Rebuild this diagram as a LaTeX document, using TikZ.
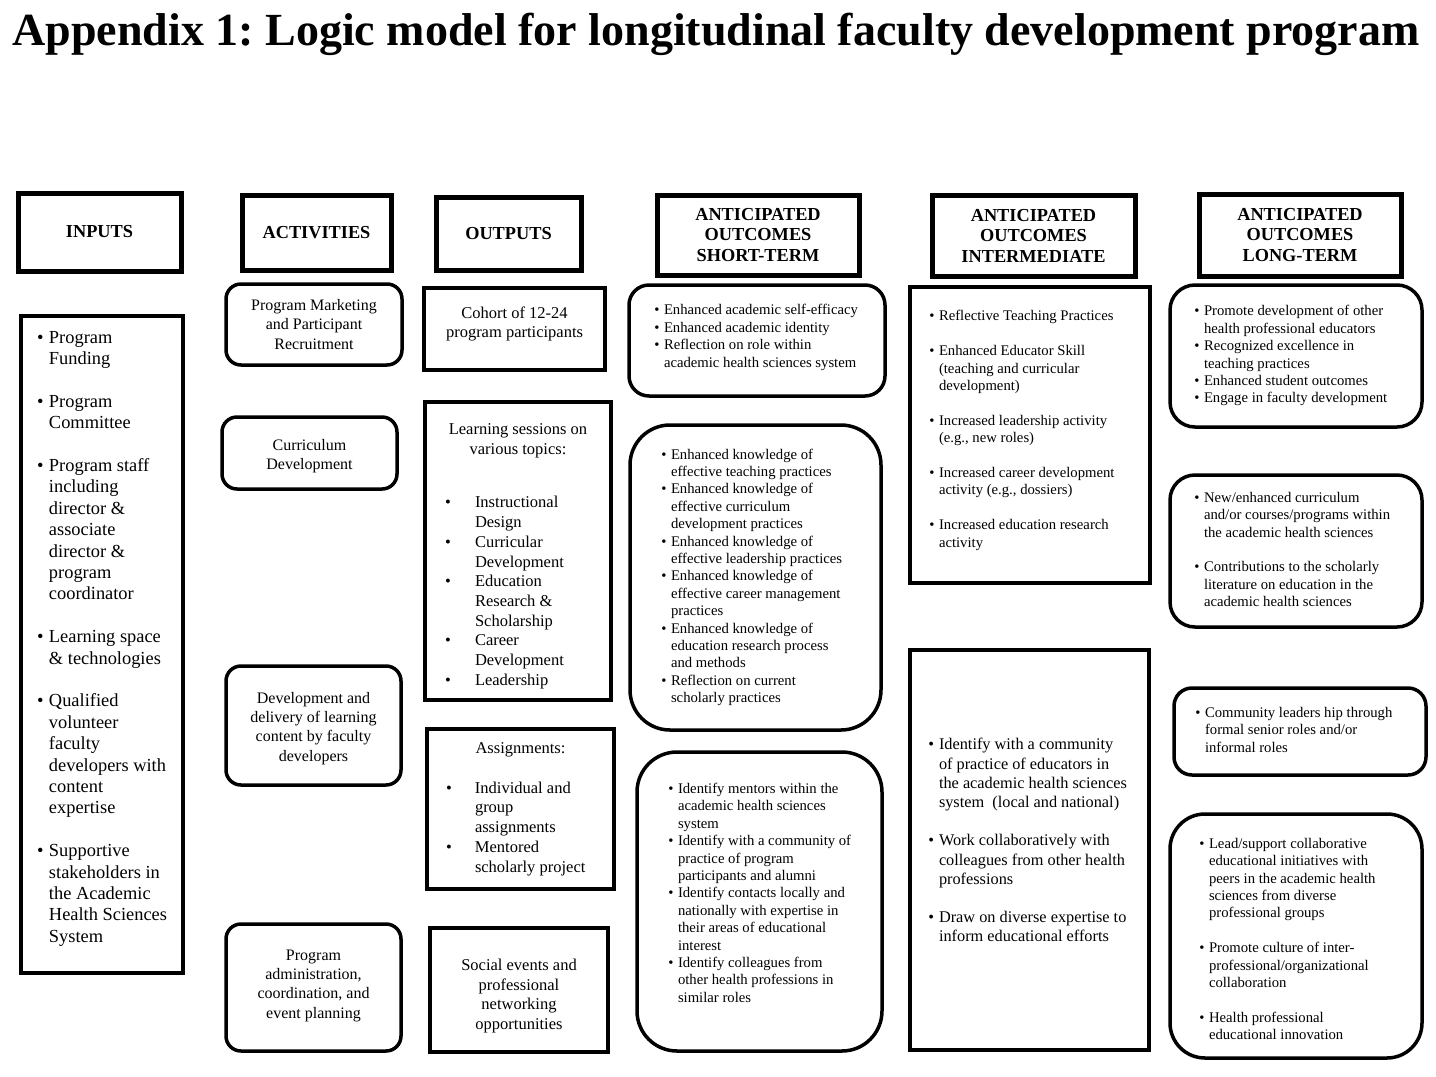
\documentclass[tikz,border=0pt]{standalone}
\usepackage{fontspec}
\setmainfont{Liberation Serif}
\frenchspacing

\newcommand{\titlefont}{\bfseries\fontsize{46}{50}\selectfont}
\newcommand{\headfont}{\bfseries\fontsize{18.3}{20.5}\selectfont}
\newcommand{\inpfont}{\fontsize{18.4}{21.4}\selectfont}
\newcommand{\actfont}{\fontsize{16}{19.2}\selectfont}
\newcommand{\outfont}{\fontsize{16.5}{19.7}\selectfont}
\newcommand{\lowfont}{\fontsize{14.7}{17.4}\selectfont}
\newcommand{\midfont}{\fontsize{16.3}{19.2}\selectfont}
% bullet, set flush right in its column
\newcommand{\bul}{\hfill\textbullet\hspace*{0.3em}}
% [raise] width of block, width of bullet column, rows
\newcommand{\bitems}[4][0pt]{\raisebox{#1}[\height][\depth]{\makebox[#2][l]{%
  \begin{tabular}[t]{@{}p{#3}@{}l@{}}#4\end{tabular}}}}
% [raise] centred lines
\newcommand{\clines}[2][0pt]{\raisebox{#1}[\height][\depth]{%
  \begin{tabular}[t]{@{}c@{}}#2\end{tabular}}}

\begin{document}
\begin{tikzpicture}[x=1pt, y=-1pt,
  head/.style={draw, line width=5, inner sep=0, align=center, font=\headfont},
  sqbox/.style={draw, line width=4, inner sep=0, align=center},
  rbox/.style={draw, line width=3.5, inner sep=0, align=center, rounded corners=#1},
  rbox/.default=15,
  wh/.style 2 args={minimum width=#1, minimum height=#2}]
  \useasboundingbox (0,0) rectangle (1436,1077);

  \node[font=\titlefont, anchor=base] (title) at (716,45)
    {Appendix 1: Logic model for longitudinal faculty development program};

  % column headers
  \node[head, wh={163}{78}] (hinputs) at (99.5,232)   {INPUTS};
  \node[head, wh={149}{75}] (hact)    at (316.5,232.5) {ACTIVITIES};
  \node[head, wh={145}{73}] (hout)    at (508.5,233.5) {OUTPUTS};
  \node[head, wh={202}{80}] (hshort)  at (758,235)    {ANTICIPATED\\OUTCOMES\\SHORT-TERM};
  \node[head, wh={203}{81}] (hinter)  at (1033.5,235.5) {ANTICIPATED\\OUTCOMES\\INTERMEDIATE};
  \node[head, wh={202}{82}] (hlong)   at (1300,235)   {ANTICIPATED\\OUTCOMES\\LONG-TERM};

  % inputs
  \node[sqbox, wh={162}{657}, font=\inpfont] (inputs) at (102,644.5) {\bitems[6pt]{132pt}{13pt}{%
    \bul & Program\\ & Funding\\[21.4pt]
    \bul & Program\\ & Committee\\[21.4pt]
    \bul & Program staff\\ & including\\ & director \&\\ & associate\\ & director \&\\ & program\\ & coordinator\\[21.4pt]
    \bul & Learning space\\ & \& technologies\\[21.4pt]
    \bul & Qualified\\ & volunteer\\ & faculty\\ & developers with\\ & content\\ & expertise\\[21.4pt]
    \bul & Supportive\\ & stakeholders in\\ & the Academic\\ & Health Sciences\\ & System}};

  % activities
  \node[rbox, wh={176}{81}, font=\actfont]  (market)   at (314,324.5)   {Program Marketing\\and Participant\\Recruitment};
  \node[rbox, wh={175}{72}, font=\actfont]  (curric)   at (309.5,453)   {\clines[-3pt]{Curriculum\\Development}};
  \node[rbox, wh={175}{119}, font=\actfont] (delivery) at (313.5,725.5) {\clines[-3pt]{Development and\\delivery of learning\\content by faculty\\developers}};
  \node[rbox, wh={175}{127}, font=\actfont] (admin)    at (313.5,987.5) {\clines[2pt]{Program\\administration,\\coordination, and\\event planning}};

  % outputs
  \node[sqbox, wh={181}{82}, font=\outfont]  (cohort)   at (514.5,329) {\clines[5pt]{Cohort of 12-24\\program participants}};
  \node[sqbox, wh={186}{298}, font=\outfont] (sessions) at (518,551) {\clines[-5pt]{Learning sessions on\\various topics:\\[34pt]
    \bitems{146pt}{30pt}{%
      \textbullet & Instructional\\ & Design\\
      \textbullet & Curricular\\ & Development\\
      \textbullet & Education\\ & Research \&\\ & Scholarship\\
      \textbullet & Career\\ & Development\\
      \textbullet & Leadership}}};
  \node[sqbox, wh={187}{160}, font=\outfont] (assign) at (520.5,809) {\clines{Assignments:\\[19.7pt]
    \bitems{149pt}{29pt}{%
      \textbullet & Individual and\\ & group\\ & assignments\\
      \textbullet & Mentored\\ & scholarly project}}};
  \node[sqbox, wh={178}{124}, font=\outfont] (social) at (519,990) {\clines[-6pt]{Social events and\\professional\\networking\\opportunities}};

  % short-term outcomes
  \node[rbox=20, wh={256}{111}, font=\lowfont] (efficacy) at (757,340.5) {\bitems[3pt]{210pt}{12pt}{%
    \bul & Enhanced academic self-efficacy\\
    \bul & Enhanced academic identity\\
    \bul & Reflection on role within\\ & academic health sciences system}};
  \node[rbox=40, wh={251}{305}, font=\lowfont] (knowledge) at (755.5,577.5) {\bitems{193pt}{12pt}{%
    \bul & Enhanced knowledge of\\ & effective teaching practices\\
    \bul & Enhanced knowledge of\\ & effective curriculum\\ & development practices\\
    \bul & Enhanced knowledge of\\ & effective leadership practices\\
    \bul & Enhanced knowledge of\\ & effective career management\\ & practices\\
    \bul & Enhanced knowledge of\\ & education research process\\ & and methods\\
    \bul & Reflection on current\\ & scholarly practices}};
  \node[rbox=40, wh={245}{299}, font=\lowfont] (network) at (759.5,901.5) {\bitems[7pt]{187pt}{12pt}{%
    \bul & Identify mentors within the\\ & academic health sciences\\ & system\\
    \bul & Identify with a community of\\ & practice of program\\ & participants and alumni\\
    \bul & Identify contacts locally and\\ & nationally with expertise in\\ & their areas of educational\\ & interest\\
    \bul & Identify colleagues from\\ & other health professions in\\ & similar roles}};

  % intermediate outcomes
  \node[sqbox, wh={240}{296}, font=\lowfont] (skills) at (1030,435) {\bitems[4.5pt]{206pt}{12pt}{%
    \bul & Reflective Teaching Practices\\[17.4pt]
    \bul & Enhanced Educator Skill\\ & (teaching and curricular\\ & development)\\[17.4pt]
    \bul & Increased leadership activity\\ & (e.g., new roles)\\[17.4pt]
    \bul & Increased career development\\ & activity (e.g., dossiers)\\[17.4pt]
    \bul & Increased education research\\ & activity}};
  \node[sqbox, wh={239}{400}, font=\midfont] (community) at (1029.5,850) {\bitems[8pt]{205pt}{12pt}{%
    \bul & Identify with a community\\ & of practice of educators in\\ & the academic health sciences\\ & system\ \ (local and national)\\[19.2pt]
    \bul & Work collaboratively with\\ & colleagues from other health\\ & professions\\[19.2pt]
    \bul & Draw on diverse expertise to\\ & inform educational efforts}};

  % long-term outcomes
  \node[rbox=25, wh={252}{142}, font=\lowfont] (educators) at (1296,356) {\bitems{208pt}{12pt}{%
    \bul & Promote development of other\\ & health professional educators\\
    \bul & Recognized excellence in\\ & teaching practices\\
    \bul & Enhanced student outcomes\\
    \bul & Engage in faculty development}};
  \node[rbox=25, wh={252}{152}, font=\lowfont] (scholar) at (1296,551) {\bitems{208pt}{12pt}{%
    \bul & New/enhanced curriculum\\ & and/or courses/programs within\\ & the academic health sciences\\[17.4pt]
    \bul & Contributions to the scholarly\\ & literature on education in the\\ & academic health sciences}};
  \node[rbox=18, wh={252}{87}, font=\lowfont] (leaders) at (1300,731.5) {\bitems{212pt}{11pt}{%
    \bul & Community leaders hip through\\ & formal senior roles and/or\\ & informal roles}};
  \node[rbox=35, wh={252}{244}, font=\lowfont] (collab) at (1296,936) {\bitems[-4.5pt]{198pt}{12pt}{%
    \bul & Lead/support collaborative\\ & educational initiatives with\\ & peers in the academic health\\ & sciences from diverse\\ & professional groups\\[17.4pt]
    \bul & Promote culture of inter-\\ & professional/organizational\\ & collaboration\\[17.4pt]
    \bul & Health professional\\ & educational innovation}};
\end{tikzpicture}
\end{document}
